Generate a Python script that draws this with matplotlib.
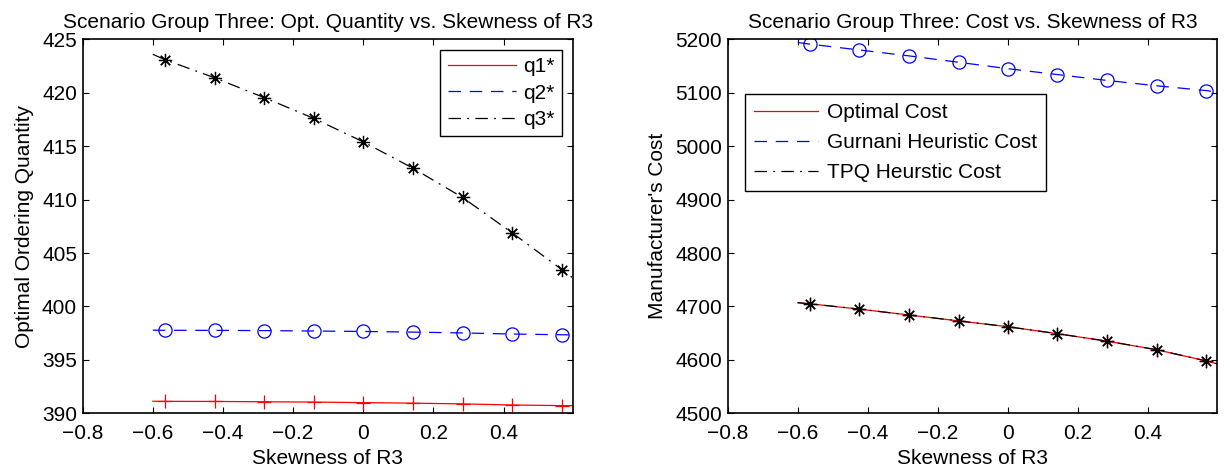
import matplotlib.pyplot as plt

plt.rcParams['font.family'] = ['Liberation Sans', 'DejaVu Sans']

# skewness of R3: line runs from -0.6 to 0.6, markers on the inner points
skew = [-0.6, -0.566, -0.424, -0.283, -0.141, 0.0, 0.141, 0.283, 0.424, 0.566, 0.6]

q1 = [391.13, 391.12, 391.11, 391.08, 391.05, 391.0, 390.95, 390.88, 390.78, 390.72, 390.71]
q2 = [397.78, 397.77, 397.76, 397.74, 397.70, 397.66, 397.60, 397.52, 397.42, 397.35, 397.34]
q3 = [423.6, 423.1, 421.4, 419.55, 417.6, 415.4, 412.95, 410.2, 406.9, 403.45, 402.6]

opt_cost = [4707, 4705, 4695, 4684, 4673, 4662, 4649, 4635, 4619, 4598, 4592]
gur_cost = [5194, 5191, 5180, 5169, 5157, 5145, 5134, 5123, 5113, 5104, 5101]
tpq_cost = [4707, 4705, 4695, 4684, 4673, 4662, 4649, 4635, 4619, 4598, 4592]

xticks = [-0.8, -0.6, -0.4, -0.2, 0, 0.2, 0.4]
xticklabels = ['\u22120.8', '\u22120.6', '\u22120.4', '\u22120.2', '0', '0.2', '0.4']

star = (8, 2, 0)
fs = 15
ms = 9.5
dash = (0, (10, 7))
dashdot = (0, (10, 5, 1.5, 5))

fig = plt.figure(figsize=(12.3, 4.73), dpi=100)
ax1 = fig.add_axes([0.0672, 0.1262, 0.3984, 0.7907])
ax2 = fig.add_axes([0.5916, 0.1262, 0.3980, 0.7907])

mk = slice(1, 10)

# left panel
l1, = ax1.plot(skew, q1, color='red', lw=0.9, ls='-')
ax1.plot(skew[mk], q1[mk], ls='none', marker='+', color='red', ms=ms, mew=0.9)
l2, = ax1.plot(skew, q2, color='blue', lw=0.9, ls=dash)
ax1.plot(skew[mk], q2[mk], ls='none', marker='o', mfc='none', mec='blue', ms=ms, mew=0.9)
l3, = ax1.plot(skew, q3, color='black', lw=0.9, ls=dashdot)
ax1.plot(skew[mk], q3[mk], ls='none', marker=star, color='black', ms=ms, mew=0.9)
ax1.set_ylim(390, 425)
ax1.set_yticks(range(390, 426, 5))
ax1.set_ylabel('Optimal Ordering Quantity', fontsize=fs, labelpad=6)
ax1.set_title('Scenario Group Three: Opt. Quantity vs. Skewness of R3', fontsize=fs, pad=8)
ax1.legend([l1, l2, l3], ['q1*', 'q2*', 'q3*'], loc='upper right', fontsize=fs,
           fancybox=False, edgecolor='black', framealpha=1, handlelength=3.3,
           handletextpad=0.35, borderaxespad=0.5, borderpad=0.35, labelspacing=0.36)

# right panel
m1, = ax2.plot(skew, opt_cost, color='red', lw=0.9, ls='-')
ax2.plot(skew[mk], opt_cost[mk], ls='none', marker='+', color='red', ms=ms, mew=0.9)
m2, = ax2.plot(skew, gur_cost, color='blue', lw=0.9, ls=dash)
ax2.plot(skew[mk], gur_cost[mk], ls='none', marker='o', mfc='none', mec='blue', ms=ms, mew=0.9)
m3, = ax2.plot(skew, tpq_cost, color='black', lw=0.9, ls=dashdot)
ax2.plot(skew[mk], tpq_cost[mk], ls='none', marker=star, color='black', ms=ms, mew=0.9)
ax2.set_ylim(4500, 5200)
ax2.set_yticks(range(4500, 5201, 100))
ax2.set_ylabel("Manufacturer's Cost", fontsize=fs, labelpad=6)
ax2.set_title('Scenario Group Three: Cost vs. Skewness of R3', fontsize=fs, pad=8)
ax2.legend([m1, m2, m3], ['Optimal Cost', 'Gurnani Heuristic Cost', 'TPQ Heurstic Cost'],
           loc='upper left', bbox_to_anchor=(0.0353, 0.853), fontsize=fs,
           fancybox=False, edgecolor='black', framealpha=1, handlelength=3.1,
           handletextpad=0.4, borderaxespad=0.0, borderpad=0.43, labelspacing=0.52)

for ax in (ax1, ax2):
    ax.set_xlim(-0.8, 0.597)
    ax.set_xticks(xticks)
    ax.set_xticklabels(xticklabels)
    ax.set_xlabel('Skewness of R3', fontsize=fs, labelpad=4)
    ax.tick_params(direction='in', top=True, right=True, length=4, width=0.8,
                   labelsize=fs)
    ax.tick_params(axis='x', pad=8)
    ax.tick_params(axis='y', pad=4)
    for s in ax.spines.values():
        s.set_linewidth(1.2)

fig.savefig('out.png', dpi=100)
